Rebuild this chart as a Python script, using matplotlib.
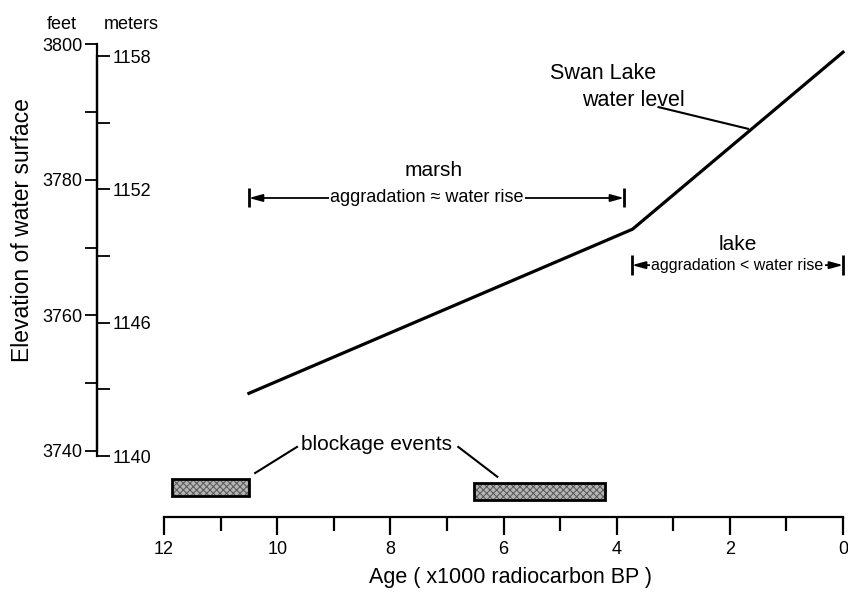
import matplotlib.pyplot as plt

plt.rcParams['font.family'] = ['Liberation Sans', 'DejaVu Sans']
plt.rcParams['hatch.linewidth'] = 0.7

# water level curve (age in ka, elevation in feet)
age_line = [10.5, 3.72, 0.0]
elev_line = [3748.5, 3772.7, 3798.8]

# blockage events
block_start = [11.86, 6.52]
block_end = [10.5, 4.2]
block_bottom = [3733.4, 3732.8]
block_top = [3735.9, 3735.3]

# axes ticks
feet_major = [3740, 3760, 3780, 3800]
feet_minor = [3750, 3770, 3790]
meter_major = [1140, 1146, 1152, 1158]
meter_minor = [1143, 1149, 1155]
age_major = [0, 2, 4, 6, 8, 10, 12]
age_minor = [1, 3, 5, 7, 9, 11]

# ranges of the two regimes
marsh_span = [10.5, 3.87]
lake_span = [3.73, 0.0]

fig = plt.figure(figsize=(8.48, 5.92), dpi=100)
ax = fig.add_axes([0, 0, 1, 1])
ax.set_xlim(14.899, -0.088)
ax.set_ylim(3719.21, 3806.49)
ax.patch.set_alpha(0)

for side in ['top', 'right']:
    ax.spines[side].set_visible(False)
ax.spines['left'].set_position(('data', 13.184))
ax.spines['left'].set_bounds(3740, 3800)
ax.spines['bottom'].set_position(('data', 3730.27))
ax.spines['bottom'].set_bounds(0, 12)
ax.spines['left'].set_linewidth(1.6)
ax.spines['bottom'].set_linewidth(1.6)

ax.set_yticks(feet_major)
ax.set_yticks(feet_minor, minor=True)
ax.tick_params(axis='y', which='both', length=8.6, width=1.3, pad=2, labelsize=13)
ax.set_xticks(age_major)
ax.set_xticks(age_minor, minor=True)
ax.tick_params(axis='x', which='major', length=13, width=1.6, pad=4, labelsize=13)
ax.tick_params(axis='x', which='minor', length=10, width=1.6)

# meters scale on the same vertical line
ax2 = ax.twinx()
ax2.set_ylim(1133.88, 1160.52)
for side in ['top', 'left', 'bottom']:
    ax2.spines[side].set_visible(False)
ax2.spines['right'].set_position(('data', 13.184))
ax2.spines['right'].set_bounds(1140, 1158)
ax2.spines['right'].set_linewidth(1.6)
ax2.set_yticks(meter_major)
ax2.set_yticks(meter_minor, minor=True)
ax2.tick_params(axis='y', which='both', length=9, width=1.3, pad=2, labelsize=13)

ax.text(13.80, 3802.95, 'feet', fontsize=13, ha='center', va='center')
ax.text(12.57, 3802.95, 'meters', fontsize=13, ha='center', va='center')
ax.text(14.51, 3772.6, 'Elevation of water surface', fontsize=16.5,
        rotation=90, ha='center', va='center')
ax.text(5.88, 3721.3, 'Age ( x1000 radiocarbon BP )', fontsize=15.5,
        ha='center', va='center')

# water level line
ax.plot(age_line, elev_line, color='black', lw=2.3, solid_joinstyle='miter')
ax.text(4.24, 3795.65, 'Swan Lake', fontsize=15.5, ha='center', va='center')
ax.text(3.71, 3791.6, 'water level', fontsize=15.5, ha='center', va='center')
ax.plot([3.26, 1.68], [3790.7, 3787.5], color='black', lw=1.5)

# marsh arrow
y_marsh = 3777.3
ax.annotate('', xy=(marsh_span[1], y_marsh), xytext=(marsh_span[0], y_marsh),
            arrowprops=dict(arrowstyle='<|-|>,head_length=0.8,head_width=0.22',
                            color='black', lw=1.3, shrinkA=0, shrinkB=0))
ax.vlines(marsh_span, y_marsh - 1.4, y_marsh + 1.4, color='black', lw=2)
ax.text(7.23, 3781.4, 'marsh', fontsize=15, ha='center', va='center')
ax.text(7.35, y_marsh, 'aggradation \u2248 water rise', fontsize=13,
        ha='center', va='center', zorder=5,
        bbox=dict(facecolor='white', edgecolor='none', pad=1))

# lake arrow
y_lake = 3767.4
ax.annotate('', xy=(lake_span[1], y_lake), xytext=(lake_span[0], y_lake),
            arrowprops=dict(arrowstyle='<|-|>,head_length=0.8,head_width=0.22',
                            color='black', lw=1.3, shrinkA=0, shrinkB=0))
ax.vlines(lake_span, y_lake - 1.5, y_lake + 1.5, color='black', lw=2)
ax.text(1.86, 3770.4, 'lake', fontsize=15, ha='center', va='center')
ax.text(1.87, y_lake, 'aggradation < water rise', fontsize=11.5,
        ha='center', va='center', zorder=5,
        bbox=dict(facecolor='white', edgecolor='none', pad=1))

# blockage events
widths = [e - s for s, e in zip(block_start, block_end)]
heights = [t - b for b, t in zip(block_bottom, block_top)]
ax.bar(block_start, heights, width=widths, bottom=block_bottom, align='edge',
       color='#b4b4b4', hatch='xxxxx', edgecolor='#555555', lw=0)
ax.bar(block_start, heights, width=widths, bottom=block_bottom, align='edge',
       fill=False, edgecolor='black', lw=2)
ax.text(8.24, 3740.9, 'blockage events', fontsize=15, ha='center', va='center')
ax.plot([10.39, 9.65], [3736.75, 3740.6], color='black', lw=1.5)
ax.plot([6.80, 6.11], [3740.6, 3736.2], color='black', lw=1.5)

fig.savefig('out.png', dpi=100)
